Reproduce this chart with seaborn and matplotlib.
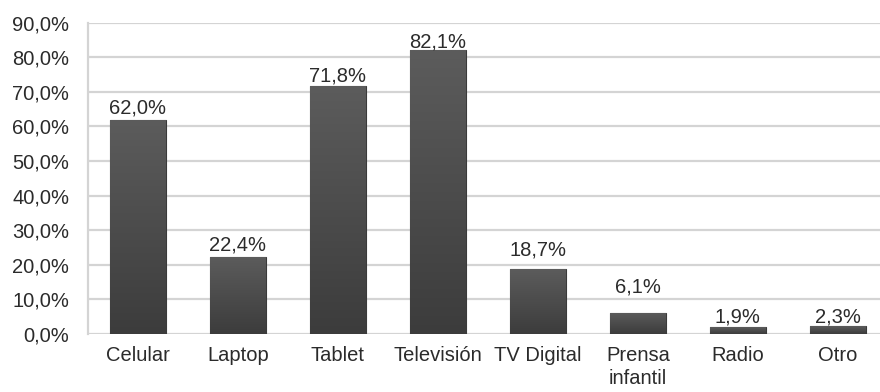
import numpy as np
import pandas as pd
import matplotlib
matplotlib.use("Agg")
import matplotlib.pyplot as plt
import seaborn as sns
from matplotlib.colors import LinearSegmentedColormap

categories = ["Celular", "Laptop", "Tablet", "Televisión", "TV Digital",
              "Prensa\ninfantil", "Radio", "Otro"]
values = [62.0, 22.4, 71.8, 82.1, 18.7, 6.1, 1.9, 2.3]
yticks = [0, 10, 20, 30, 40, 50, 60, 70, 80, 90]
# gap (in pixels) between each bar top and its value label
label_gap_px = [6, 6, 4, 3, 14, 20, 5, 4]

sns.set_theme(style="white")
plt.rcParams["font.family"] = ["Liberation Sans", "DejaVu Sans"]

df = pd.DataFrame({"categoria": categories, "valor": values})

fig = plt.figure(figsize=(8.8, 3.92), dpi=100)
ax = fig.add_axes([0.1, 0.148, 0.909, 0.794])

sns.barplot(data=df, x="categoria", y="valor", color="#4a4a4a",
            width=0.56, edgecolor="#3a3a3a", linewidth=0.8,
            saturation=1, ax=ax, zorder=3)

# vertical shading on each bar
cmap = LinearSegmentedColormap.from_list("barshade", ["#3c3c3c", "#5c5c5c"])
grad = np.linspace(0, 1, 256).reshape(-1, 1)
for patch in ax.patches:
    x0, y0 = patch.get_x(), patch.get_y()
    w, h = patch.get_width(), patch.get_height()
    im = ax.imshow(grad, cmap=cmap, aspect="auto", origin="lower",
                   extent=(x0, x0 + w, y0, y0 + h), zorder=3.5,
                   interpolation="bilinear")
    im.set_clip_path(patch)

ax.set_xlim(-0.5, 7.5)
ax.set_ylim(0, 90)
ax.set_yticks(yticks)
ax.set_yticklabels([f"{t:.1f}%".replace(".", ",") for t in yticks])

for i, (v, gap) in enumerate(zip(values, label_gap_px)):
    ax.annotate(f"{v:.1f}%".replace(".", ","), xy=(i, v),
                xytext=(0, gap * 0.72), textcoords="offset points",
                ha="center", va="baseline", fontsize=14.5,
                color="#2b2b2b", zorder=5)

ax.yaxis.grid(True, color="#d4d4d4", linewidth=1.6, zorder=0)
ax.set_axisbelow(True)
for side in ["top", "right", "bottom"]:
    ax.spines[side].set_visible(False)
ax.spines["left"].set_color("#d4d4d4")
ax.spines["left"].set_linewidth(1.6)

ax.tick_params(axis="y", length=0, pad=13.5, labelsize=14.5, labelcolor="#2b2b2b")
ax.tick_params(axis="x", length=0, pad=9, labelsize=14.5, labelcolor="#2b2b2b")
for lbl in ax.get_xticklabels():
    lbl.set_linespacing(1.25)
ax.set_xlabel("")
ax.set_ylabel("")

fig.savefig("out.png", dpi=100)
